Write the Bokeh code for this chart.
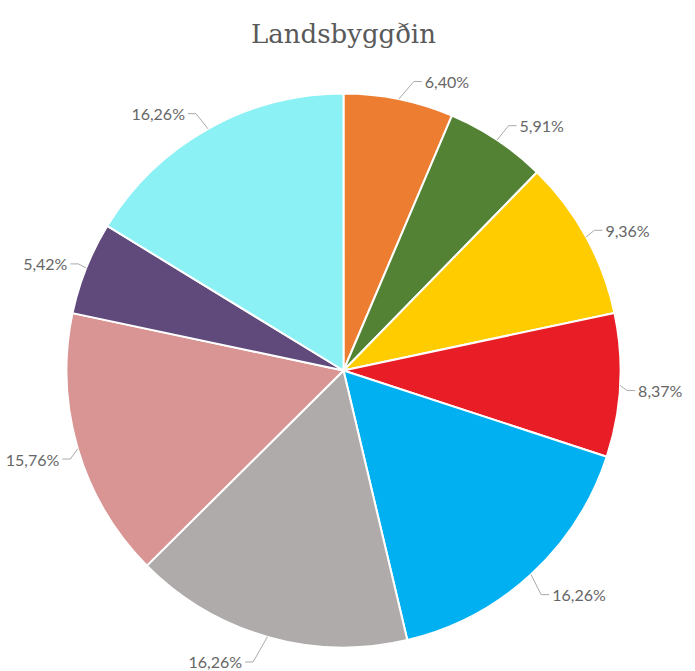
import math
from bokeh.plotting import figure
from bokeh.models import Range1d, Label, ColumnDataSource
from bokeh.core.properties import value
from bokeh.embed import file_html
from bokeh.resources import INLINE

# ---- data ----
title_text = "Landsbyggðin"
shares = [6.40, 5.91, 9.36, 8.37, 16.26, 16.26, 15.76, 5.42, 16.26]
colors = ["#ED7D31", "#548235", "#FFCC00", "#E81D25", "#00B0F0",
          "#AFABAB", "#D99594", "#604A7B", "#8CF1F5"]
label_texts = [("%.2f" % s).replace(".", ",") + "%" for s in shares]

# ---- geometry (data units equal screen pixels, y up) ----
W, H = 695, 671
cx, cy, r = 343, 671 - 370, 277

p = figure(width=W, height=H, output_backend="svg", toolbar_location=None,
           x_range=Range1d(0, W), y_range=Range1d(671 - H, 671),
           min_border=0, outline_line_color=None)
p.axis.visible = False
p.grid.visible = False
p.background_fill_color = "white"
p.border_fill_color = "white"

total = sum(shares)
starts, ends, mids = [], [], []
acc = 0.0
for s in shares:
    a0 = acc / total * 2 * math.pi
    acc += s
    a1 = acc / total * 2 * math.pi
    starts.append(math.pi / 2 - a0)
    ends.append(math.pi / 2 - a1)
    mids.append((a0 + a1) / 2)

src = ColumnDataSource(dict(start=starts, end=ends, color=colors))
p.wedge(x=cx, y=cy, radius=r, start_angle="start", end_angle="end",
        direction="clock", fill_color="color", line_color="white",
        line_width=2, source=src)

# connectors and labels
lx, ly, lt, la = [], [], [], []
for th, txt in zip(mids, label_texts):
    s, c = math.sin(th), math.cos(th)
    sg = 1 if s >= 0 else -1
    ex, ey = cx + r * s, cy + r * c
    bx = cx + 267 * s + 17 * sg
    by = cy - 4 + 299 * c
    p.line([ex, bx, bx + 8 * sg], [ey, by, by], line_color="#AAAAAA",
           line_width=1)
    lx.append(bx + 11 * sg)
    ly.append(by)
    lt.append(txt)
    la.append("left" if sg > 0 else "right")

lsrc = ColumnDataSource(dict(x=lx, y=ly, text=lt, align=la))
p.text(x="x", y="y", text="text", text_align="align",
       text_baseline="alphabetic", text_font=value("Lato"),
       text_font_size="16px", text_color="#666666", source=lsrc)

p.add_layout(Label(x=cx, y=671 - 33, text=title_text, text_align="center",
                   text_baseline="alphabetic", text_font="DejaVu Serif",
                   text_font_size="26px", text_color="#595959"))

open("out.html", "w").write(file_html(p, INLINE))
